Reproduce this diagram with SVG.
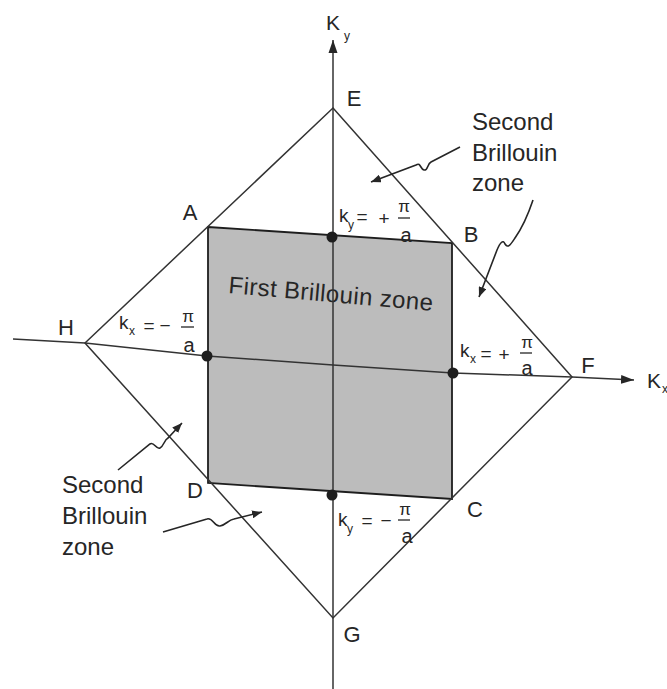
<svg xmlns="http://www.w3.org/2000/svg" width="667" height="689" viewBox="0 0 667 689">
<style>
text{font-family:"Liberation Sans",Arial,sans-serif;fill:#262626}
.pt{font-size:22px;text-anchor:middle}
.big{font-size:24px}
.k{font-size:19px}
.op{font-size:19px;text-anchor:middle}
.sub{font-size:12px}
.pi{font-size:17px;text-anchor:middle}
.fa{font-size:20px;text-anchor:middle}
.ln{stroke:#333;stroke-width:1.5;fill:none}
.sq{stroke:#1e1e1e;stroke-width:1.8}
.bar{stroke:#262626;stroke-width:1.3}
.wav{stroke:#262626;stroke-width:1.6;fill:none}
.dot{fill:#1e1e1e}
</style>
<defs>
<marker id="ax" markerUnits="userSpaceOnUse" markerWidth="14" markerHeight="10" refX="13" refY="5" orient="auto">
<path d="M0,0.5 L13,5 L0,9.5 z" fill="#262626"/>
</marker>
<marker id="sm" markerUnits="userSpaceOnUse" markerWidth="11" markerHeight="8" refX="10" refY="4" orient="auto">
<path d="M0,0 L10,4 L0,8 z" fill="#262626"/>
</marker>
</defs>
<rect width="667" height="689" fill="#fff"/>

<g id="first-zone">
<polygon class="sq" points="208,227 452,243 452,499 208,483" fill="#bcbcbc"/>
<text class="big" x="228" y="293" textLength="205" lengthAdjust="spacing" transform="rotate(5 228 293)">First Brillouin zone</text>
</g>

<g id="connectors">
<polygon class="ln" points="333,108 572,377 333,618 85,343"/>
<line class="ln" x1="333" y1="689" x2="333" y2="40" marker-end="url(#ax)"/>
<polyline class="ln" points="13,339 85,343 207,356 333,365 453,373 572,377 634,380" marker-end="url(#ax)"/>
<path class="wav" d="M460,147 L431,162 C427,164 428,171 424,170 C420,169 421,162 416,165 L371,182" marker-end="url(#sm)"/>
<path class="wav" d="M533,200 C528,215 522,228 515,238 C511,244 508,249 505,244 C503,239 500,243 497,250 L479,297" marker-end="url(#sm)"/>
<path class="wav" d="M118,470 L150,444 C154,441 156,450 160,448 C164,446 164,440 168,438 L182,423" marker-end="url(#sm)"/>
<path class="wav" d="M163,532 L207,519 C213,517 214,527 220,526 C226,525 228,520 234,519 L262,512" marker-end="url(#sm)"/>
</g>

<g id="axis-labels">
<text x="326" y="30" style="font-size:21px">K</text><text class="sub" x="344" y="40">y</text>
<text x="647" y="388" style="font-size:21px">K</text><text class="sub" x="662" y="393">x</text>
</g>

<g id="vertex-E"><text class="pt" x="354" y="106">E</text></g>
<g id="vertex-F"><text class="pt" x="588" y="373">F</text></g>
<g id="vertex-G"><text class="pt" x="352" y="642">G</text></g>
<g id="vertex-H"><text class="pt" x="66" y="335">H</text></g>
<g id="corner-A"><text class="pt" x="190" y="220">A</text></g>
<g id="corner-B"><text class="pt" x="471" y="242">B</text></g>
<g id="corner-C"><text class="pt" x="475" y="517">C</text></g>
<g id="corner-D"><text class="pt" x="195" y="498">D</text></g>

<g id="ky-plus">
<circle class="dot" cx="332" cy="237" r="5.5"/>
<text class="k" x="339" y="222">k</text><text class="sub" x="348" y="229">y</text>
<text class="op" x="362" y="223">=</text>
<text class="op" x="384" y="225">+</text>
<line class="bar" x1="398" y1="218" x2="410" y2="218"/>
<text class="pi" x="404" y="212">π</text>
<text class="fa" x="406" y="242">a</text>
</g>

<g id="ky-minus">
<circle class="dot" cx="332" cy="495" r="5.5"/>
<text class="k" x="338" y="526">k</text><text class="sub" x="347" y="533">y</text>
<text class="op" x="367" y="527">=</text>
<text class="op" x="386" y="527">−</text>
<line class="bar" x1="398" y1="520" x2="410" y2="520"/>
<text class="pi" x="405" y="515">π</text>
<text class="fa" x="407" y="543">a</text>
</g>

<g id="kx-minus">
<circle class="dot" cx="207" cy="356" r="5.5"/>
<text class="k" x="119" y="329">k</text><text class="sub" x="129" y="335">x</text>
<text class="op" x="149" y="332">=</text>
<text class="op" x="165" y="332">−</text>
<line class="bar" x1="181" y1="327" x2="194" y2="327"/>
<text class="pi" x="188" y="322">π</text>
<text class="fa" x="189" y="352">a</text>
</g>

<g id="kx-plus">
<circle class="dot" cx="453" cy="373" r="5.5"/>
<text class="k" x="460" y="357">k</text><text class="sub" x="470" y="363">x</text>
<text class="op" x="486" y="360">=</text>
<text class="op" x="504" y="361">+</text>
<line class="bar" x1="520" y1="353" x2="532" y2="353"/>
<text class="pi" x="527" y="348">π</text>
<text class="fa" x="527" y="375">a</text>
</g>

<g id="label-second-top">
<text class="big" x="472" y="130">Second</text>
<text class="big" x="472" y="161">Brillouin</text>
<text class="big" x="472" y="191">zone</text>
</g>

<g id="label-second-bottom">
<text class="big" x="62" y="493">Second</text>
<text class="big" x="62" y="524">Brillouin</text>
<text class="big" x="62" y="555">zone</text>
</g>
</svg>
